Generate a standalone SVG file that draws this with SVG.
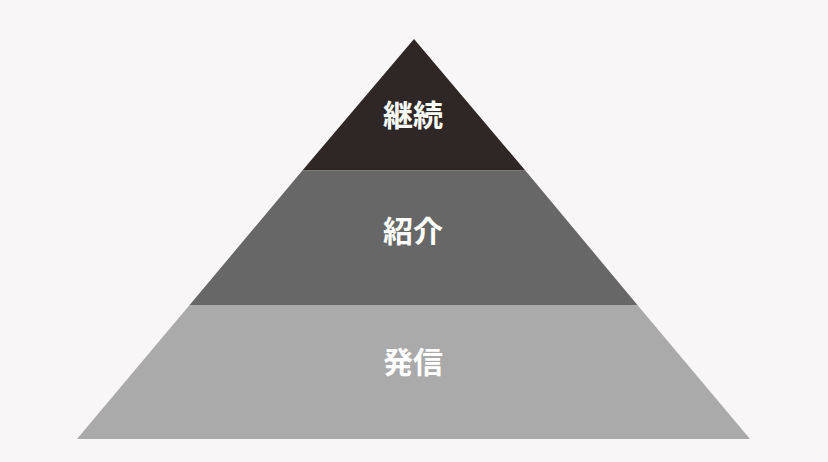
<svg xmlns="http://www.w3.org/2000/svg" width="828" height="462" viewBox="0 0 828 462">
<style>
.lbl{font-family:"Noto Sans CJK JP","Noto Sans CJK SC",sans-serif;font-weight:700;font-size:30px;fill:#ffffff;text-anchor:middle;dominant-baseline:central}
</style>
<rect width="828" height="462" fill="#f8f6f7"/>
<g id="layer-bottom">
<polygon points="189.6,305 637.4,305 750,439 77,439" fill="#aaaaaa"/>
<text class="lbl" x="413" y="360">発信</text>
</g>
<g id="layer-middle">
<polygon points="302.8,170 524.9,170 637.4,305 189.6,305" fill="#676767"/>
<text class="lbl" x="413" y="229">紹介</text>
</g>
<g id="layer-top">
<polygon points="414,39 524.9,170 302.8,170" fill="#2f2725"/>
<text class="lbl" x="413" y="113">継続</text>
</g>
<g id="connectors">
<line x1="302.8" y1="170.5" x2="524.9" y2="170.5" stroke="#7a7a7a" stroke-width="1"/>
</g>
</svg>
